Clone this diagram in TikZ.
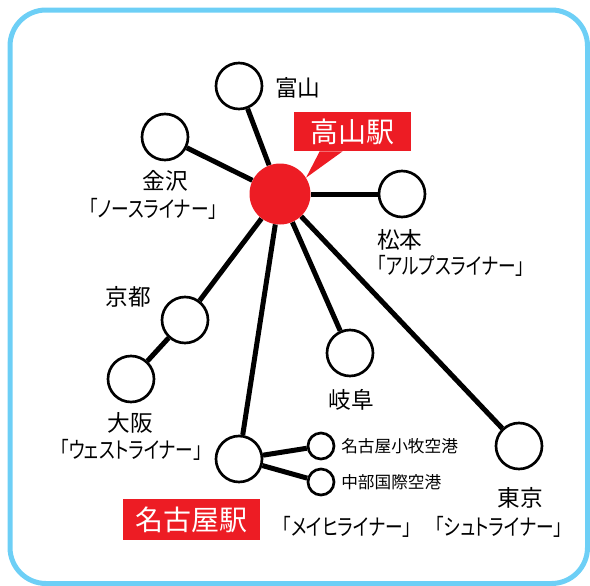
\documentclass[tikz,border=0pt]{standalone}
\usepackage{fontspec}
\usepackage{tikz}
\usetikzlibrary{positioning,calc,backgrounds}
\newfontfamily\jpfont[RawFeature=+palt]{Noto Sans CJK JP}
\newfontfamily\jpnarrow[RawFeature=+palt,FakeStretch=0.78]{Noto Sans CJK JP}
\definecolor{jrred}{HTML}{ED1C24}
\definecolor{framebl}{HTML}{6DCFF6}
\tikzset{
  station/.style={circle,draw,line width=2pt,fill=white,minimum size=34.5pt,inner sep=0pt},
  airport/.style={circle,draw,line width=2pt,fill=white,minimum size=19.5pt,inner sep=0pt},
  hub/.style={circle,fill=jrred,minimum size=45.75pt,inner sep=0pt},
  rail/.style={line width=3.75pt},
  lbl/.style={inner sep=0pt,font=\jpfont\fontsize{17}{20}\selectfont},
  linerlbl/.style={inner sep=0pt,font=\jpnarrow\fontsize{17}{20}\selectfont},
  smalllbl/.style={inner sep=0pt,font=\jpfont\fontsize{12.5}{15}\selectfont},
  redbox/.style={fill=jrred,text=white,inner sep=0pt,font=\jpfont\fontsize{21}{24}\selectfont}
}
\begin{document}
\begin{tikzpicture}[x=0.75pt,y=-0.75pt]
\useasboundingbox (0,0) rectangle (590,586);

% Frame
\draw[framebl,line width=3.75pt,rounded corners=27pt] (10,10) rectangle (587.5,583.5);

% Stations
\node[hub] (takayama) at (280,194) {};
\node[station] (toyama) at (239,86) {};
\node[station] (kanazawa) at (165,137) {};
\node[station] (matsumoto) at (402,194) {};
\node[station] (kyoto) at (185,320) {};
\node[station] (osaka) at (131,379) {};
\node[station] (gifu) at (350,353) {};
\node[station] (nagoya) at (239,459) {};
\node[station] (tokyo) at (519,446) {};
\node[airport] (komaki) at (321,446) {};
\node[airport] (chubu) at (321,482) {};

% Lines
\begin{scope}[on background layer]
\foreach \s in {toyama,kanazawa,matsumoto,kyoto,gifu,nagoya,tokyo}
  \draw[rail] (takayama) -- (\s);
\draw[rail] (kyoto) -- (osaka);
\draw[rail] (nagoya) -- (komaki);
\draw[rail] (nagoya) -- (chubu);
\end{scope}

% Labels
\node[lbl,anchor=west] (toyamalbl) at (275,88) {富山};
\node[lbl] (kanazawalbl) at (165,181) {金沢};
\node[linerlbl] (kanazawaline) at (153,209) {「ノースライナー」};
\node[lbl,anchor=west] (matsumotolbl) at (377,240) {松本};
\node[linerlbl,anchor=west] (matsumotoline) at (377,266) {「アルプスライナー」};
\node[lbl] (kyotolbl) at (128,297) {京都};
\node[lbl] (osakalbl) at (130,423) {大阪};
\node[linerlbl] (osakaline) at (131,450) {「ウェストライナー」};
\node[lbl] (gifulbl) at (351,400) {岐阜};
\node[smalllbl,anchor=west] (komakilbl) at (341,446) {名古屋小牧空港};
\node[smalllbl,anchor=west] (chubulbl) at (341,482) {中部国際空港};
\node[lbl] (tokyolbl) at (520,498) {東京};
\node[linerlbl] (tokyoline) at (499,527) {「シュトライナー」};
\node[linerlbl] (nagoyaline) at (347,527) {「メイヒライナー」};

% Red boxes
\node[redbox,minimum width=87.75pt,minimum height=29.25pt] (takayamalbl) at (352.5,131.5) {高山駅};
\fill[jrred] ($(takayamalbl.south west)+(26,0)$) -- ($(takayamalbl.south west)+(49,0)$) -- (takayama.32) -- cycle;
\node[redbox,minimum width=102.75pt,minimum height=30.75pt] (nagoyalbl) at (191.5,519.5) {名古屋駅};
\end{tikzpicture}
\end{document}
